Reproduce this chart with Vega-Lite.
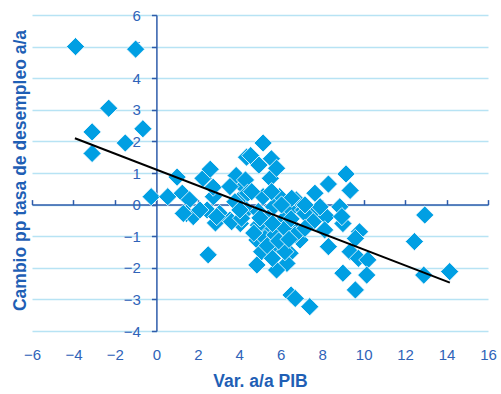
{
  "$schema": "https://vega.github.io/schema/vega-lite/v6.json",
  "width": 456,
  "height": 316,
  "autosize": {"type": "none"},
  "padding": {"left": 32, "top": 15, "right": 13, "bottom": 63},
  "background": "white",
  "config": {"view": {"stroke": null}, "font": "Liberation Sans"},
  "encoding": {
    "x": {
      "field": "x",
      "type": "quantitative",
      "scale": {"domain": [-6, 16], "nice": false, "zero": false},
      "axis": {
        "title": "Var. a/a PIB",
        "values": [-6, -4, -2, 0, 2, 4, 6, 8, 10, 12, 14, 16],
        "offset": -126.4,
        "grid": false,
        "domainColor": "#2E5CAB",
        "domainWidth": 1.5,
        "tickColor": "#2E5CAB",
        "tickWidth": 1.5,
        "tickSize": -5,
        "labelPadding": 148,
        "labelFlush": false,
        "labelFont": "Liberation Sans",
        "labelFontSize": 15,
        "labelColor": "#2F63B8",
        "titleFont": "Liberation Sans",
        "titleFontSize": 17.5,
        "titleFontWeight": "bold",
        "titleColor": "#1F5FB5",
        "titleY": 182,
        "titleBaseline": "alphabetic"
      }
    },
    "y": {
      "field": "y",
      "type": "quantitative",
      "scale": {"domain": [-4, 6], "nice": false, "zero": false},
      "axis": {
        "title": "Cambio pp tasa de desempleo a/a",
        "values": [-4, -3, -2, -1, 0, 1, 2, 3, 4, 5, 6],
        "offset": -124.4,
        "grid": true,
        "gridColor": "#B7E3F4",
        "gridWidth": 1.5,
        "domainColor": "#2E5CAB",
        "domainWidth": 1.5,
        "tickColor": "#2E5CAB",
        "tickWidth": 1.5,
        "tickSize": 5,
        "labelPadding": 11,
        "labelFlush": false,
        "labelFont": "Liberation Sans",
        "labelFontSize": 15,
        "labelColor": "#2F63B8",
        "titleFont": "Liberation Sans",
        "titleFontSize": 17.5,
        "titleFontWeight": "bold",
        "titleColor": "#1F5FB5",
        "titleX": -131.4,
        "titleY": 155,
        "titleBaseline": "alphabetic"
      }
    }
  },
  "layer": [
    {
      "data": {
        "values": [
          {"x": -3.9, "y": 5.0}, {"x": -1.0, "y": 4.92}, {"x": -2.3, "y": 3.05}, {"x": -3.1, "y": 2.3},
          {"x": -3.1, "y": 1.62}, {"x": -1.5, "y": 1.95}, {"x": -0.65, "y": 2.4},
          {"x": -0.25, "y": 0.25}, {"x": 0.55, "y": 0.25}, {"x": 1.0, "y": 0.87}, {"x": 1.25, "y": 0.36},
          {"x": 1.6, "y": 0.15}, {"x": 1.45, "y": -0.28}, {"x": 1.78, "y": -0.38}, {"x": 2.25, "y": 0.83},
          {"x": 2.6, "y": 1.12}, {"x": 2.75, "y": 0.25}, {"x": 2.45, "y": -0.17}, {"x": 3.05, "y": -0.28},
          {"x": 2.85, "y": -0.58}, {"x": 3.85, "y": 0.92}, {"x": 4.2, "y": 0.57}, {"x": 4.0, "y": 0.15},
          {"x": 3.55, "y": -0.49}, {"x": 4.35, "y": 1.5}, {"x": 4.05, "y": -0.6},
          {"x": 5.15, "y": 1.95}, {"x": 4.55, "y": 1.55}, {"x": 5.55, "y": 1.45}, {"x": 4.95, "y": 1.25},
          {"x": 5.5, "y": 0.83}, {"x": 5.8, "y": 1.15}, {"x": 4.3, "y": 0.78}, {"x": 4.4, "y": 0.36},
          {"x": 5.15, "y": 0.25}, {"x": 5.95, "y": 0.25}, {"x": 6.75, "y": 0.15}, {"x": 7.65, "y": 0.36},
          {"x": 8.3, "y": 0.65}, {"x": 9.15, "y": 0.97}, {"x": 8.85, "y": -0.07}, {"x": 6.45, "y": -0.17},
          {"x": 7.1, "y": -0.17}, {"x": 7.75, "y": -0.17}, {"x": 8.2, "y": -0.38}, {"x": 4.35, "y": -0.17},
          {"x": 5.65, "y": -0.07}, {"x": 6.1, "y": -0.49}, {"x": 9.0, "y": -0.6}, {"x": 9.35, "y": 0.45},
          {"x": 7.9, "y": -0.07}, {"x": 8.95, "y": -0.38}, {"x": 7.17, "y": -0.28}, {"x": 7.57, "y": -0.54},
          {"x": 8.12, "y": -0.8}, {"x": 6.6, "y": -0.7}, {"x": 9.8, "y": -0.86}, {"x": 9.6, "y": -1.07},
          {"x": 8.3, "y": -1.33}, {"x": 9.35, "y": -1.49}, {"x": 9.75, "y": -1.7}, {"x": 10.2, "y": -1.75},
          {"x": 6.93, "y": -1.12}, {"x": 6.45, "y": -1.54}, {"x": 6.3, "y": -1.86}, {"x": 9.0, "y": -2.17},
          {"x": 10.15, "y": -2.23}, {"x": 9.6, "y": -2.7}, {"x": 6.5, "y": -2.86}, {"x": 6.7, "y": -2.97},
          {"x": 7.4, "y": -3.23}, {"x": 12.95, "y": -0.33}, {"x": 12.45, "y": -1.17}, {"x": 12.9, "y": -2.23},
          {"x": 14.15, "y": -2.12}, {"x": 2.5, "y": -1.59}, {"x": 4.85, "y": -1.91}, {"x": 4.85, "y": -1.12},
          {"x": 5.8, "y": -2.07}, {"x": 5.3, "y": -0.8}, {"x": 3.63, "y": -0.54}, {"x": 4.11, "y": -0.43},
          {"x": 4.92, "y": -0.22}, {"x": 4.92, "y": -0.65}, {"x": 5.4, "y": -0.43}, {"x": 5.24, "y": -1.07},
          {"x": 5.72, "y": -0.96}, {"x": 6.2, "y": -0.75}, {"x": 6.69, "y": -0.96}, {"x": 7.17, "y": -0.75},
          {"x": 5.72, "y": -1.38}, {"x": 6.2, "y": -1.49}, {"x": 5.08, "y": -1.49}, {"x": 4.6, "y": 0.41},
          {"x": 5.56, "y": 0.41}, {"x": 6.53, "y": 0.2}, {"x": 7.17, "y": -0.01}, {"x": 3.79, "y": 0.09},
          {"x": 6.04, "y": -0.01}, {"x": 2.74, "y": 0.55}, {"x": 3.55, "y": 0.57}, {"x": 2.1, "y": -0.17},
          {"x": 2.91, "y": -0.38}, {"x": 4.03, "y": -0.17}, {"x": 1.3, "y": -0.28},
          {"x": 5.0, "y": -0.42}, {"x": 5.6, "y": -0.6}, {"x": 6.5, "y": -0.45}, {"x": 5.35, "y": -1.3},
          {"x": 4.7, "y": -0.9}, {"x": 5.9, "y": -1.15}, {"x": 6.4, "y": -1.1}, {"x": 5.6, "y": -1.7}
        ]
      },
      "mark": {
        "type": "point",
        "shape": "diamond",
        "filled": true,
        "size": 330,
        "color": "#009FE3",
        "stroke": "white",
        "strokeWidth": 0.8,
        "opacity": 1
      }
    },
    {
      "data": {"values": [{"x": -3.93, "y": 2.1}, {"x": 14.16, "y": -2.47}]},
      "mark": {"type": "line", "color": "black", "strokeWidth": 2}
    }
  ]
}
